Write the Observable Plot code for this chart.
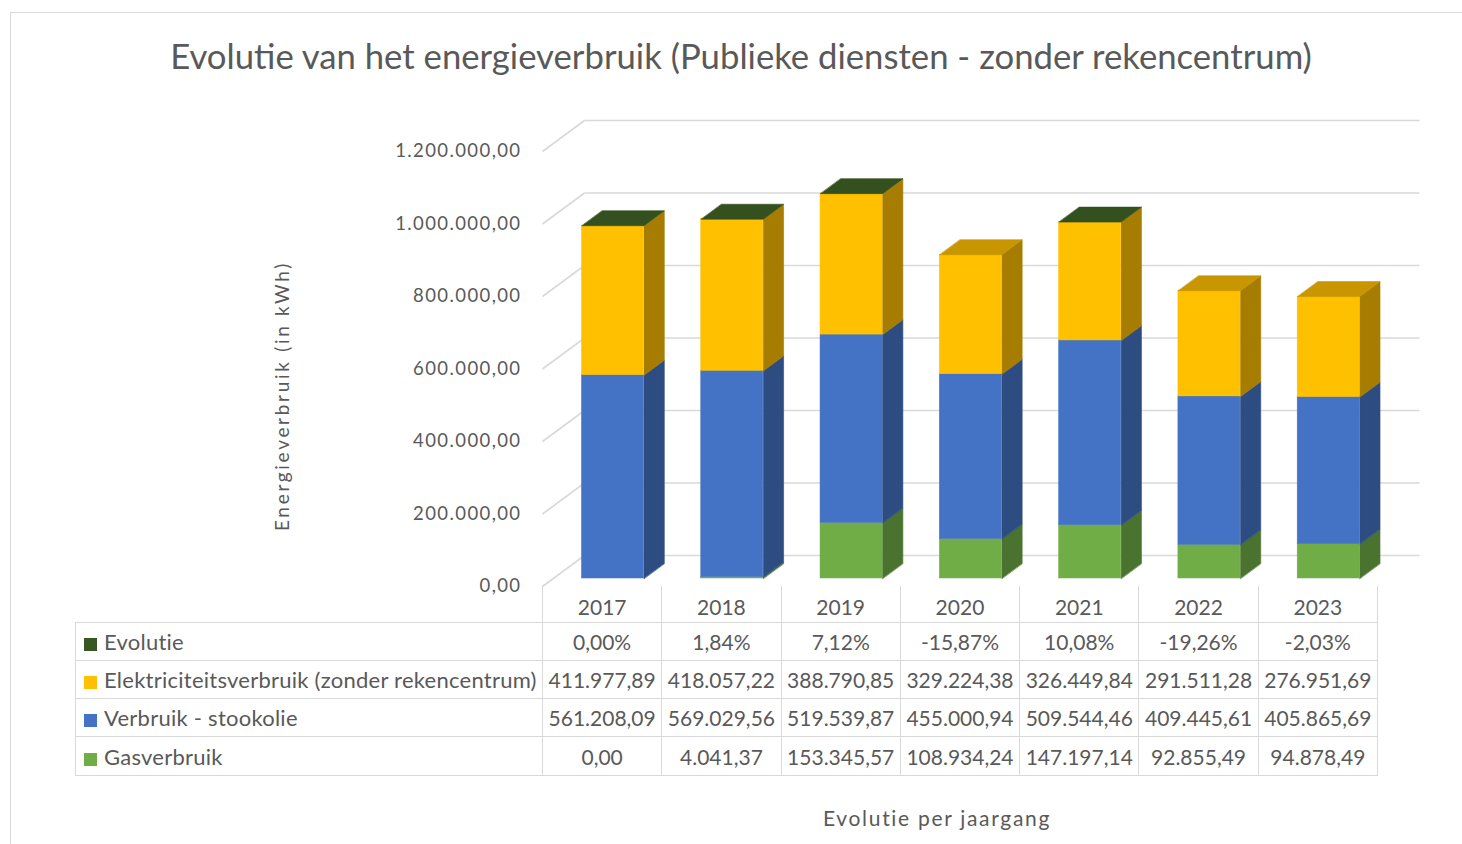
<!DOCTYPE html>
<html>
<head>
<meta charset="utf-8">
<script src="https://cdn.jsdelivr.net/npm/d3@7"></script>
<script src="https://cdn.jsdelivr.net/npm/@observablehq/plot@0.6"></script>
<style>
  html, body { margin: 0; padding: 0; background: #fff; }
  #page { position: relative; width: 1462px; height: 844px; overflow: hidden; font-family: Lato, "Open Sans", sans-serif; color: #595959; }
  #frame { position: absolute; left: 10px; top: 12px; width: 1480px; height: 900px; border: 1.5px solid #d9d9d9; box-sizing: border-box; }
  #title { position: absolute; left: 10px; width: 1462px; top: 34px; text-align: center; font-size: 34.7px; line-height: 44px; white-space: nowrap; }
  #ytitle { position: absolute; left: 281px; top: 396px; transform: translate(-50%, -50%) rotate(-90deg); font-size: 19px; letter-spacing: 2.7px; white-space: nowrap; }
  #xtitle { position: absolute; left: 937px; top: 817px; transform: translate(-50%, -50%); font-size: 21px; letter-spacing: 1.7px; white-space: nowrap; }
  #plot { position: absolute; left: 0; top: 0; }
  #tbl { position: absolute; left: 75px; top: 586px; border-collapse: collapse; table-layout: fixed; font-size: 21px; }
  #tbl td { border: 1px solid #d9d9d9; padding: 0; height: 37.3px; text-align: center; white-space: nowrap; overflow: visible; }
  #tbl td.lab { text-align: left; padding-left: 8px; font-size: 22px; letter-spacing: 0.25px; }
  #tbl tr.head td { border-top: none; border-bottom: 1px solid #d9d9d9; height: 36px; padding-top: 5px; box-sizing: border-box; }
  #tbl tr.head td.blank { border: none; border-bottom: 1px solid #d9d9d9; }
  .sw { display: inline-block; width: 13px; height: 13px; margin-right: 7px; vertical-align: -1px; }
</style>
</head>
<body>
<div id="page">
  <div id="frame"></div>
  <div id="title">Evolutie van het energieverbruik (Publieke diensten - zonder rekencentrum)</div>
  <div id="ytitle">Energieverbruik (in kWh)</div>
  <div id="plot"></div>
  <table id="tbl"></table>
  <div id="xtitle">Evolutie per jaargang</div>
</div>
<script>
// ---------- data ----------
const years = ["2017", "2018", "2019", "2020", "2021", "2022", "2023"];
const evolutie = [0.0000, 0.0184, 0.0712, -0.1587, 0.1008, -0.1926, -0.0203];
const elektriciteit = [411977.89, 418057.22, 388790.85, 329224.38, 326449.84, 291511.28, 276951.69];
const stookolie = [561208.09, 569029.56, 519539.87, 455000.94, 509544.46, 409445.61, 405865.69];
const gasverbruik = [0.00, 4041.37, 153345.57, 108934.24, 147197.14, 92855.49, 94878.49];
const yTicks = [0, 200000, 400000, 600000, 800000, 1000000, 1200000];

const seriesNames = ["Gasverbruik", "Verbruik - stookolie", "Elektriciteitsverbruik (zonder rekencentrum)", "Evolutie"];
const seriesValues = [gasverbruik, stookolie, elektriciteit, evolutie];

// ---------- styles ----------
const frontColor = { "Gasverbruik": "#70AD47", "Verbruik - stookolie": "#4472C4", "Elektriciteitsverbruik (zonder rekencentrum)": "#FFC000", "Evolutie": "#385723" };
const sideColor  = { "Gasverbruik": "#4B7330", "Verbruik - stookolie": "#2D4C82", "Elektriciteitsverbruik (zonder rekencentrum)": "#A67D00", "Evolutie": "#263D18" };
const topColor   = { "Gasverbruik": "#5E9139", "Verbruik - stookolie": "#3960A6", "Elektriciteitsverbruik (zonder rekencentrum)": "#C79600", "Evolutie": "#34501F" };

// oblique depth (in data units of the x/y scales)
const DX = 0.352, DY = 85500;     // full depth of the floor
const F1 = 0.258, F2 = 0.742;     // bar front / back depth fractions
const HW = 0.26;                  // bar half-width in category units

// ---------- stacking ----------
const frontFaces = [], sideFaces = [], topFaces = [];
years.forEach((yr, i) => {
  let pos = 0, neg = 0, last = null;
  seriesNames.forEach((name, s) => {
    const v = seriesValues[s][i];
    let y0, y1;
    if (v >= 0) { y0 = pos; y1 = pos + v; pos = y1; last = {name, y1}; }
    else { y0 = neg; y1 = neg + v; neg = y1; }
    if (Math.abs(y1 - y0) < 1) return; // no visible volume
    const xl = i + 0.5 - HW, xr = i + 0.5 + HW;
    frontFaces.push({x1: xl + F1 * DX, x2: xr + F1 * DX, y1: y0 + F1 * DY, y2: y1 + F1 * DY, c: frontColor[name]});
    const id = `s${i}-${s}`;
    sideFaces.push(
      {id, x: xr + F1 * DX, y: y0 + F1 * DY, c: sideColor[name]},
      {id, x: xr + F1 * DX, y: y1 + F1 * DY, c: sideColor[name]},
      {id, x: xr + F2 * DX, y: y1 + F2 * DY, c: sideColor[name]},
      {id, x: xr + F2 * DX, y: y0 + F2 * DY, c: sideColor[name]}
    );
  });
  if (last) {
    const xl = i + 0.5 - HW, xr = i + 0.5 + HW, id = `t${i}`, c = topColor[last.name], y = last.y1;
    topFaces.push(
      {id, x: xl + F1 * DX, y: y + F1 * DY, c},
      {id, x: xr + F1 * DX, y: y + F1 * DY, c},
      {id, x: xr + F2 * DX, y: y + F2 * DY, c},
      {id, x: xl + F2 * DX, y: y + F2 * DY, c}
    );
  }
});

const nl = d3.formatLocale({decimal: ",", thousands: ".", grouping: [3], currency: ["€", ""], minus: "-"});
const fmtNum = nl.format(",.2f");
const fmtPct = nl.format(".2%");

const n = years.length;
const chart = Plot.plot({
  width: 1462, height: 844,
  marginLeft: 542, marginRight: 85, marginTop: 151, marginBottom: 258,
  x: {type: "linear", domain: [0, n], axis: null},
  y: {type: "linear", domain: [0, 1200000], axis: null},
  color: {type: "identity"},
  style: {fontFamily: "Lato, 'Open Sans', sans-serif", fontSize: "18.5px", color: "#595959", background: "transparent", overflow: "visible"},
  marks: [
    Plot.link(yTicks, {x1: 0, y1: d => d, x2: DX, y2: d => d + DY, stroke: "#d9d9d9", strokeWidth: 1.6}),
    Plot.link(yTicks, {x1: DX, y1: d => d + DY, x2: n + DX, y2: d => d + DY, stroke: "#d9d9d9", strokeWidth: 1.6}),
    Plot.line(sideFaces, {x: "x", y: "y", z: "id", fill: "c", stroke: "c", strokeWidth: 0.6, curve: "linear-closed"}),
    Plot.rect(frontFaces, {x1: "x1", x2: "x2", y1: "y1", y2: "y2", fill: "c", stroke: "c", strokeWidth: 0.5}),
    Plot.line(topFaces, {x: "x", y: "y", z: "id", fill: "c", stroke: "c", strokeWidth: 0.6, curve: "linear-closed"}),
    Plot.axisY({ticks: yTicks, tickFormat: fmtNum, tickSize: 0, tickPadding: 21, label: null})
  ]
});
chart.querySelectorAll("text").forEach(t => t.setAttribute("letter-spacing", "1.4"));
document.getElementById("plot").appendChild(chart);

// ---------- data table ----------
const tbl = document.getElementById("tbl");
const colW = 835 / n;
let html = `<colgroup><col style="width:467px">${years.map(() => `<col style="width:${colW}px">`).join("")}</colgroup>`;
html += `<tr class="head"><td class="blank"></td>${years.map(y => `<td>${y}</td>`).join("")}</tr>`;
const rows = [
  ["Evolutie", evolutie, fmtPct],
  ["Elektriciteitsverbruik (zonder rekencentrum)", elektriciteit, fmtNum],
  ["Verbruik - stookolie", stookolie, fmtNum],
  ["Gasverbruik", gasverbruik, fmtNum]
];
rows.forEach(([name, vals, f]) => {
  html += `<tr><td class="lab"><span class="sw" style="background:${frontColor[name]}"></span>${name}</td>${vals.map(v => `<td>${f(v)}</td>`).join("")}</tr>`;
});
tbl.innerHTML = html;
</script>
</body>
</html>
